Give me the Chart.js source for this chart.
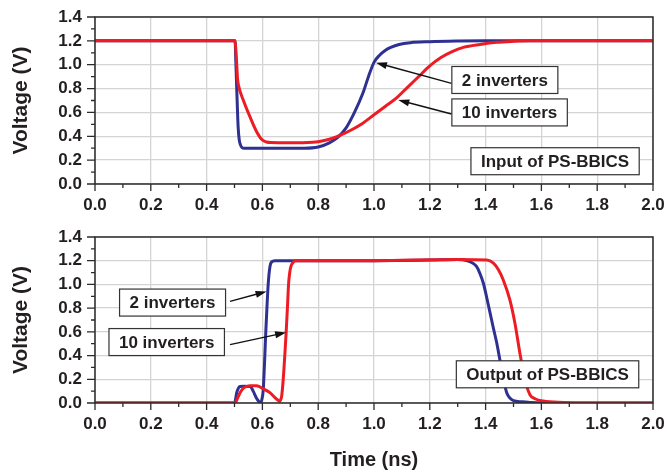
<!DOCTYPE html>
<html>
<head>
<meta charset="utf-8">
<script src="https://cdn.jsdelivr.net/npm/chart.js@4.4.0/dist/chart.umd.min.js"></script>
<style>
  html, body { margin: 0; padding: 0; background: #fff; }
  #wrap { position: relative; width: 667px; height: 473px; }
  canvas { position: absolute; left: 0; }
  #chartIn { top: 0; }
  #chartOut { top: 220px; }
</style>
</head>
<body>
<div id="wrap">
  <canvas id="chartIn" width="667" height="220"></canvas>
  <canvas id="chartOut" width="667" height="253"></canvas>
</div>
<script>
// axes
const timeRange = [0, 2.0];
const voltRange = [0, 1.4];

// Input of PS-BBICS (top)
const inBlueT = [0, 0.502, 0.505, 0.509, 0.513, 0.517, 0.521, 0.527, 0.535, 0.56, 0.65, 0.75, 0.8, 0.84, 0.87, 0.9, 0.93, 0.96, 0.98, 1.0, 1.02, 1.04, 1.06, 1.09, 1.13, 1.2, 1.3, 1.4, 2.0];
const inBlueV = [1.2, 1.2, 1.01, 0.73, 0.48, 0.37, 0.33, 0.305, 0.3, 0.3, 0.3, 0.3, 0.31, 0.345, 0.39, 0.47, 0.6, 0.76, 0.9, 1.02, 1.08, 1.12, 1.145, 1.17, 1.185, 1.193, 1.198, 1.2, 1.2];
const inRedT = [0, 0.502, 0.505, 0.508, 0.511, 0.515, 0.532, 0.556, 0.579, 0.597, 0.615, 0.63, 0.7, 0.78, 0.8, 0.84, 0.88, 0.92, 0.96, 1.0, 1.04, 1.08, 1.12, 1.16, 1.2, 1.24, 1.28, 1.32, 1.38, 1.44, 1.5, 1.56, 2.0];
const inRedV = [1.2, 1.2, 1.12, 1.0, 0.88, 0.82, 0.7, 0.56, 0.44, 0.375, 0.352, 0.347, 0.345, 0.35, 0.355, 0.375, 0.41, 0.455, 0.51, 0.58, 0.65, 0.72, 0.81, 0.9, 0.99, 1.06, 1.11, 1.145, 1.17, 1.188, 1.196, 1.2, 1.2];

// Output of PS-BBICS (bottom)
const outBlueT = [0, 0.5, 0.508, 0.514, 0.519, 0.535, 0.556, 0.567, 0.579, 0.588, 0.594, 0.598, 0.603, 0.608, 0.612, 0.617, 0.621, 0.627, 0.633, 0.645, 1.0, 1.2, 1.3, 1.335, 1.35, 1.368, 1.38, 1.392, 1.404, 1.416, 1.428, 1.44, 1.45, 1.458, 1.467, 1.476, 1.488, 1.5, 1.53, 1.56, 1.65, 2.0];
const outBlueV = [0, 0, 0.087, 0.125, 0.14, 0.142, 0.14, 0.1, 0.04, 0.01, 0, 0.03, 0.11, 0.36, 0.59, 0.84, 1.01, 1.15, 1.19, 1.2, 1.2, 1.205, 1.21, 1.2, 1.185, 1.15, 1.09, 1.01, 0.89, 0.76, 0.63, 0.506, 0.38, 0.28, 0.17, 0.084, 0.04, 0.02, 0.01, 0.005, 0, 0];
const outRedT = [0, 0.502, 0.508, 0.514, 0.522, 0.532, 0.545, 0.556, 0.579, 0.603, 0.627, 0.645, 0.655, 0.661, 0.665, 0.669, 0.673, 0.677, 0.681, 0.685, 0.69, 0.694, 0.698, 0.702, 0.708, 0.718, 1.0, 1.3, 1.404, 1.428, 1.446, 1.463, 1.487, 1.505, 1.523, 1.541, 1.559, 1.577, 1.607, 1.68, 1.75, 2.0];
const outRedV = [0, 0, 0.025, 0.056, 0.095, 0.126, 0.14, 0.145, 0.145, 0.12, 0.087, 0.045, 0.025, 0.015, 0.025, 0.056, 0.15, 0.28, 0.43, 0.59, 0.82, 1.01, 1.1, 1.15, 1.18, 1.2, 1.2, 1.21, 1.205, 1.18, 1.124, 1.04, 0.87, 0.675, 0.42, 0.196, 0.07, 0.036, 0.016, 0.005, 0, 0];

const BLUE = '#2e3192';
const RED = '#ed1c24';
const INK = '#231f20';
const FONT = '"Liberation Sans", Arial, Helvetica, sans-serif';

Chart.defaults.font.family = FONT;
Chart.defaults.color = INK;

const pts = (t, v) => t.map((x, i) => ({ x, y: v[i] }));

// frame, minor/major ticks, labelled boxes and arrows
const decor = {
  id: 'decor',
  afterDatasetsDraw(chart, args, opts) {
    const { ctx, chartArea: a, scales: { x, y } } = chart;
    ctx.save();
    ctx.strokeStyle = '#2b2b2b';
    ctx.lineWidth = 1.5;
    ctx.strokeRect(a.left, a.top, a.right - a.left, a.bottom - a.top);

    ctx.lineWidth = 1.3;
    ctx.beginPath();
    const nx = Math.round((x.max - x.min) / 0.1);
    for (let i = 0; i <= nx; i++) {
      const px = x.getPixelForValue(x.min + i * 0.1);
      ctx.moveTo(px, a.bottom);
      ctx.lineTo(px, a.bottom + (i % 2 ? 4 : 7));
    }
    const ny = Math.round((y.max - y.min) / 0.1);
    for (let i = 0; i <= ny; i++) {
      const py = y.getPixelForValue(y.min + i * 0.1);
      ctx.moveTo(a.left, py);
      ctx.lineTo(a.left - (i % 2 ? 4 : 8), py);
    }
    ctx.stroke();

    // arrows
    (opts.arrows || []).forEach(ar => {
      const x0 = x.getPixelForValue(ar.from[0]), y0 = y.getPixelForValue(ar.from[1]);
      const x1 = x.getPixelForValue(ar.to[0]), y1 = y.getPixelForValue(ar.to[1]);
      const ang = Math.atan2(y1 - y0, x1 - x0);
      const hl = 11, hw = 3.5;
      ctx.strokeStyle = '#111';
      ctx.lineWidth = 1.4;
      ctx.beginPath();
      ctx.moveTo(x0, y0);
      ctx.lineTo(x1 - Math.cos(ang) * hl * 0.8, y1 - Math.sin(ang) * hl * 0.8);
      ctx.stroke();
      ctx.fillStyle = '#111';
      ctx.beginPath();
      ctx.moveTo(x1, y1);
      ctx.lineTo(x1 - Math.cos(ang) * hl - Math.sin(ang) * hw, y1 - Math.sin(ang) * hl + Math.cos(ang) * hw);
      ctx.lineTo(x1 - Math.cos(ang) * hl + Math.sin(ang) * hw, y1 - Math.sin(ang) * hl - Math.cos(ang) * hw);
      ctx.closePath();
      ctx.fill();
    });

    // boxes
    ctx.font = 'bold 17px ' + FONT;
    ctx.textAlign = 'center';
    ctx.textBaseline = 'middle';
    (opts.boxes || []).forEach(b => {
      const cx = x.getPixelForValue(b.at[0]), cy = y.getPixelForValue(b.at[1]);
      const w = ctx.measureText(b.text).width + 20, h = 27;
      ctx.fillStyle = '#fff';
      ctx.fillRect(cx - w / 2, cy - h / 2, w, h);
      ctx.strokeStyle = '#333';
      ctx.lineWidth = 1.2;
      ctx.strokeRect(cx - w / 2, cy - h / 2, w, h);
      ctx.fillStyle = INK;
      ctx.fillText(b.text, cx, cy + 1);
    });
    ctx.restore();
  }
};

function makeChart(id, red, blue, xAxisH, showTime, decorOpts) {
  return new Chart(document.getElementById(id), {
    type: 'scatter',
    data: {
      datasets: [
        { label: '10 inverters', data: red, borderColor: RED },
        { label: '2 inverters', data: blue, borderColor: BLUE }
      ]
    },
    options: {
      responsive: false,
      animation: false,
      showLine: true,
      elements: {
        point: { radius: 0, hoverRadius: 0 },
        line: { borderWidth: 3, cubicInterpolationMode: 'monotone', fill: false }
      },
      layout: { padding: { left: 0, right: 14, top: 17, bottom: 0 } },
      plugins: { legend: { display: false }, tooltip: { enabled: false }, decor: decorOpts },
      scales: {
        x: {
          type: 'linear', min: timeRange[0], max: timeRange[1],
          afterFit: s => { s.height = xAxisH; },
          border: { display: false },
          // tick marks come from the decor plugin; the invisible ones only space the labels
          grid: { color: '#d4d4d4', lineWidth: 1.3, drawTicks: true, tickLength: 10, tickColor: 'rgba(0,0,0,0)' },
          ticks: { stepSize: 0.2, autoSkip: false, maxRotation: 0, padding: 1,
                   font: { size: 17, weight: 'bold' }, color: INK,
                   callback: v => v.toFixed(1) },
          title: { display: showTime, text: 'Time (ns)', font: { size: 20, weight: 'bold' }, color: INK,
                   padding: { top: 0, bottom: 1 } }
        },
        y: {
          min: voltRange[0], max: voltRange[1],
          afterFit: s => { s.width = 95; },
          border: { display: false },
          grid: { color: '#d4d4d4', lineWidth: 1.3, drawTicks: true, tickLength: 10, tickColor: 'rgba(0,0,0,0)' },
          ticks: { stepSize: 0.2, autoSkip: false, padding: 3,
                   font: { size: 17, weight: 'bold' }, color: INK,
                   callback: v => v.toFixed(1) },
          title: { display: true, text: 'Voltage (V)', font: { size: 21, weight: 'bold' }, color: INK,
                   padding: { top: 9, bottom: 0 } }
        }
      }
    },
    plugins: [decor]
  });
}

makeChart('chartIn', pts(inRedT, inRedV), pts(inBlueT, inBlueV), 36, false, {
  boxes: [
    { text: '2 inverters', at: [1.469, 0.872] },
    { text: '10 inverters', at: [1.486, 0.60] },
    { text: 'Input of PS-BBICS', at: [1.649, 0.191] }
  ],
  arrows: [
    { from: [1.278, 0.844], to: [1.007, 1.017] },
    { from: [1.278, 0.587], to: [1.087, 0.704] }
  ]
});

makeChart('chartOut', pts(outRedT, outRedV), pts(outBlueT, outBlueV), 70, true, {
  boxes: [
    { text: '2 inverters', at: [0.278, 0.847] },
    { text: '10 inverters', at: [0.257, 0.514] },
    { text: 'Output of PS-BBICS', at: [1.622, 0.242] }
  ],
  arrows: [
    { from: [0.484, 0.857], to: [0.615, 0.941] },
    { from: [0.484, 0.492], to: [0.685, 0.595] }
  ]
});
</script>
</body>
</html>
